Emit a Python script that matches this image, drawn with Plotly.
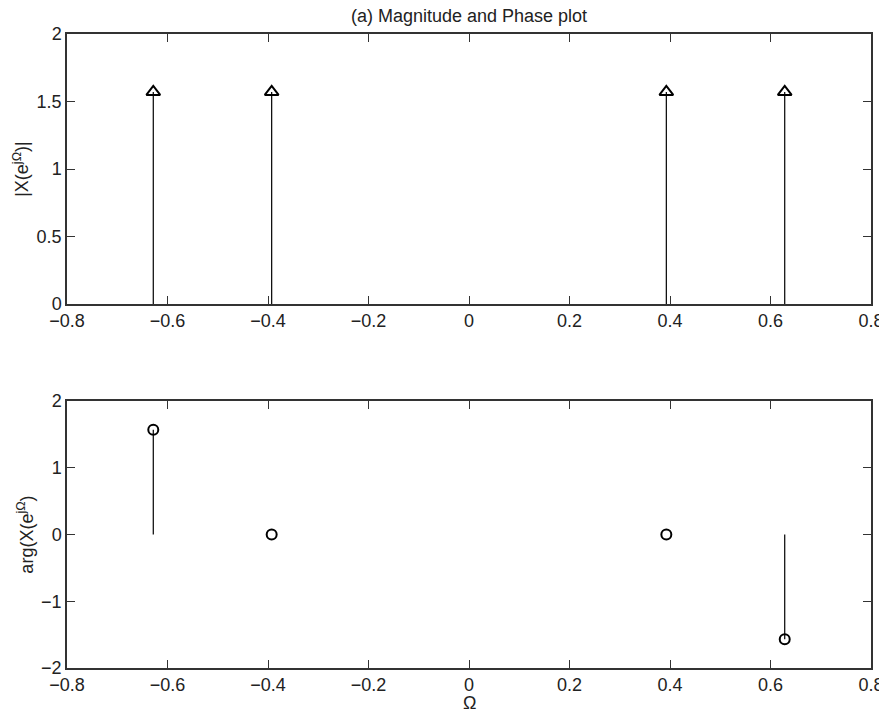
import plotly.graph_objects as go
from plotly.subplots import make_subplots

omega = [-0.6283, -0.3927, 0.3927, 0.6283]
magnitude = [1.5708, 1.5708, 1.5708, 1.5708]
phase = [1.5708, 0.0, 0.0, -1.5708]

x_ticks = [-0.8, -0.6, -0.4, -0.2, 0, 0.2, 0.4, 0.6, 0.8]
x_tick_labels = ["\u22120.8", "\u22120.6", "\u22120.4", "\u22120.2", "0", "0.2", "0.4", "0.6", "0.8"]
mag_ticks = [0, 0.5, 1, 1.5, 2]
mag_tick_labels = ["0", "0.5", "1", "1.5", "2"]
ph_ticks = [-2, -1, 0, 1, 2]
ph_tick_labels = ["\u22122", "\u22121", "0", "1", "2"]

FONT = "Liberation Sans, Arial, sans-serif"
TXT = "#222222"
FS = 18


def stem_lines(xs, ys):
    lx, ly = [], []
    for x, y in zip(xs, ys):
        lx += [x, x, None]
        ly += [0, y, None]
    return lx, ly


fig = make_subplots(rows=2, cols=1, vertical_spacing=0.0)

mx, my = stem_lines(omega, magnitude)
fig.add_trace(go.Scatter(x=mx, y=my, mode="lines", line=dict(color="black", width=1.2),
                         showlegend=False, hoverinfo="skip"), row=1, col=1)
fig.add_trace(go.Scatter(x=omega, y=magnitude, mode="markers",
                         marker=dict(symbol="triangle-up-open", size=12, color="black",
                                     line=dict(width=2, color="black")),
                         showlegend=False), row=1, col=1)

px, py = stem_lines(omega, phase)
fig.add_trace(go.Scatter(x=px, y=py, mode="lines", line=dict(color="black", width=1.2),
                         showlegend=False, hoverinfo="skip"), row=2, col=1)
fig.add_trace(go.Scatter(x=omega, y=phase, mode="markers",
                         marker=dict(symbol="circle-open", size=10, color="black",
                                     line=dict(width=2, color="black")),
                         showlegend=False), row=2, col=1)

axis_common = dict(showgrid=False, zeroline=False, showline=True, linecolor="#333333",
                   linewidth=1.5, mirror="ticks", ticks="inside", ticklen=8,
                   tickcolor="#333333", tickwidth=1.2, automargin=False,
                   tickfont=dict(family=FONT, size=FS, color=TXT))

fig.update_xaxes(range=[-0.8, 0.8], tickvals=x_ticks, ticktext=x_tick_labels,
                 ticklabeloverflow="allow", **axis_common)
fig.update_yaxes(**axis_common)

fig.update_layout(
    xaxis=dict(domain=[0, 1]),
    xaxis2=dict(domain=[0, 1]),
    yaxis=dict(domain=[0.574, 1.0], range=[0, 2], tickvals=mag_ticks, ticktext=mag_tick_labels,
               title=dict(text="|X(e<sup>j\u03a9</sup>)|", standoff=3,
                          font=dict(family=FONT, size=FS, color=TXT))),
    yaxis2=dict(domain=[0.0, 0.4211], range=[-2, 2], tickvals=ph_ticks, ticktext=ph_tick_labels,
                title=dict(text="arg(X(e<sup>j\u03a9</sup>)", standoff=3,
                           font=dict(family=FONT, size=FS, color=TXT))),
    width=879, height=707,
    margin=dict(l=59, r=16, t=26, b=47, autoexpand=False),
    paper_bgcolor="white", plot_bgcolor="white",
    title=dict(text="(a) Magnitude and Phase plot", x=0.5, xanchor="center", xref="paper",
               y=1 - 1 / 707, yref="container", yanchor="top", pad=dict(t=0),
               font=dict(family=FONT, size=FS, color=TXT)),
    showlegend=False,
    annotations=[dict(text="\u03a9", x=0, xref="x2", y=-35 / 634, yref="paper",
                      xanchor="center", yanchor="middle", showarrow=False,
                      font=dict(family=FONT, size=FS, color=TXT))],
)

fig.write_html("out.html")
